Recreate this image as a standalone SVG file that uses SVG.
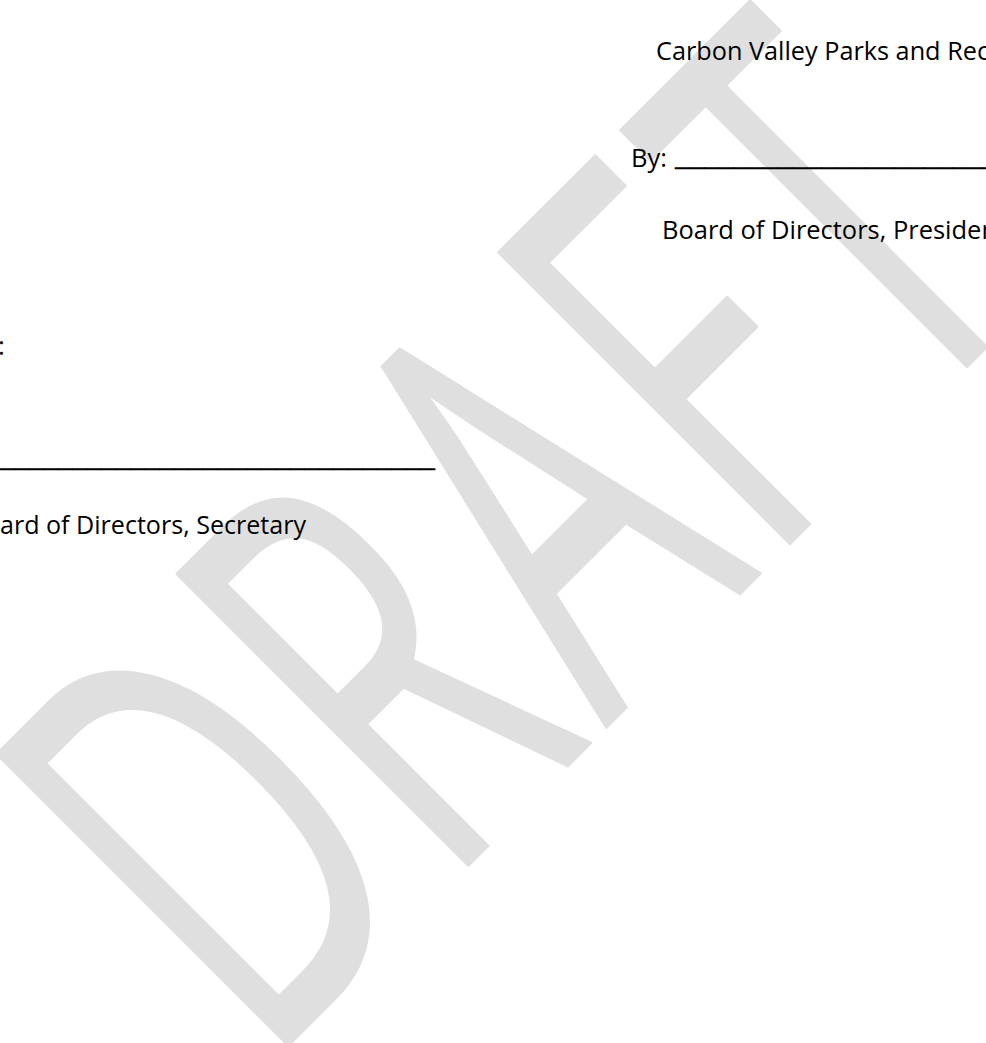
<svg xmlns="http://www.w3.org/2000/svg" width="986" height="1043" viewBox="0 0 986 1043">
<style>
  .t { font-family: "Open Sans", "Noto Sans", sans-serif; font-size: 26px; fill: #000; }
  .u { font-family: "Open Sans", "Noto Sans", sans-serif; font-size: 26px; fill: #000; stroke: #000; stroke-width: 0.4; }
  .wm { font-family: "Open Sans", "Noto Sans", sans-serif; font-size: 577px; fill: #dfdfdf; stroke: #dfdfdf; stroke-width: 3; stroke-linejoin: round; text-anchor: middle; }
</style>
<rect width="986" height="1043" fill="#ffffff"/>
<g id="watermark">
  <text class="wm" transform="rotate(-45) scale(0.6,1)" x="-740 -347 39 382 731" y="943">DRAFT</text>
</g>
<g id="president-block">
  <text class="t" x="656" y="59.5" textLength="333" lengthAdjust="spacingAndGlyphs">Carbon Valley Parks and Rec</text>
  <text class="t" x="631" y="167" textLength="36" lengthAdjust="spacingAndGlyphs">By:</text>
  <text class="u" x="675" y="165" textLength="322" lengthAdjust="spacingAndGlyphs">______________________</text>
  <text class="t" x="662" y="238.5" textLength="335" lengthAdjust="spacingAndGlyphs">Board of Directors, Presiden</text>
</g>
<g id="secretary-block">
  <text class="t" x="-2" y="355">:</text>
  <text class="u" x="0" y="466" textLength="435" lengthAdjust="spacingAndGlyphs">______________________________</text>
  <text class="t" x="0" y="534" textLength="306" lengthAdjust="spacingAndGlyphs">ard of Directors, Secretary</text>
</g>
</svg>
